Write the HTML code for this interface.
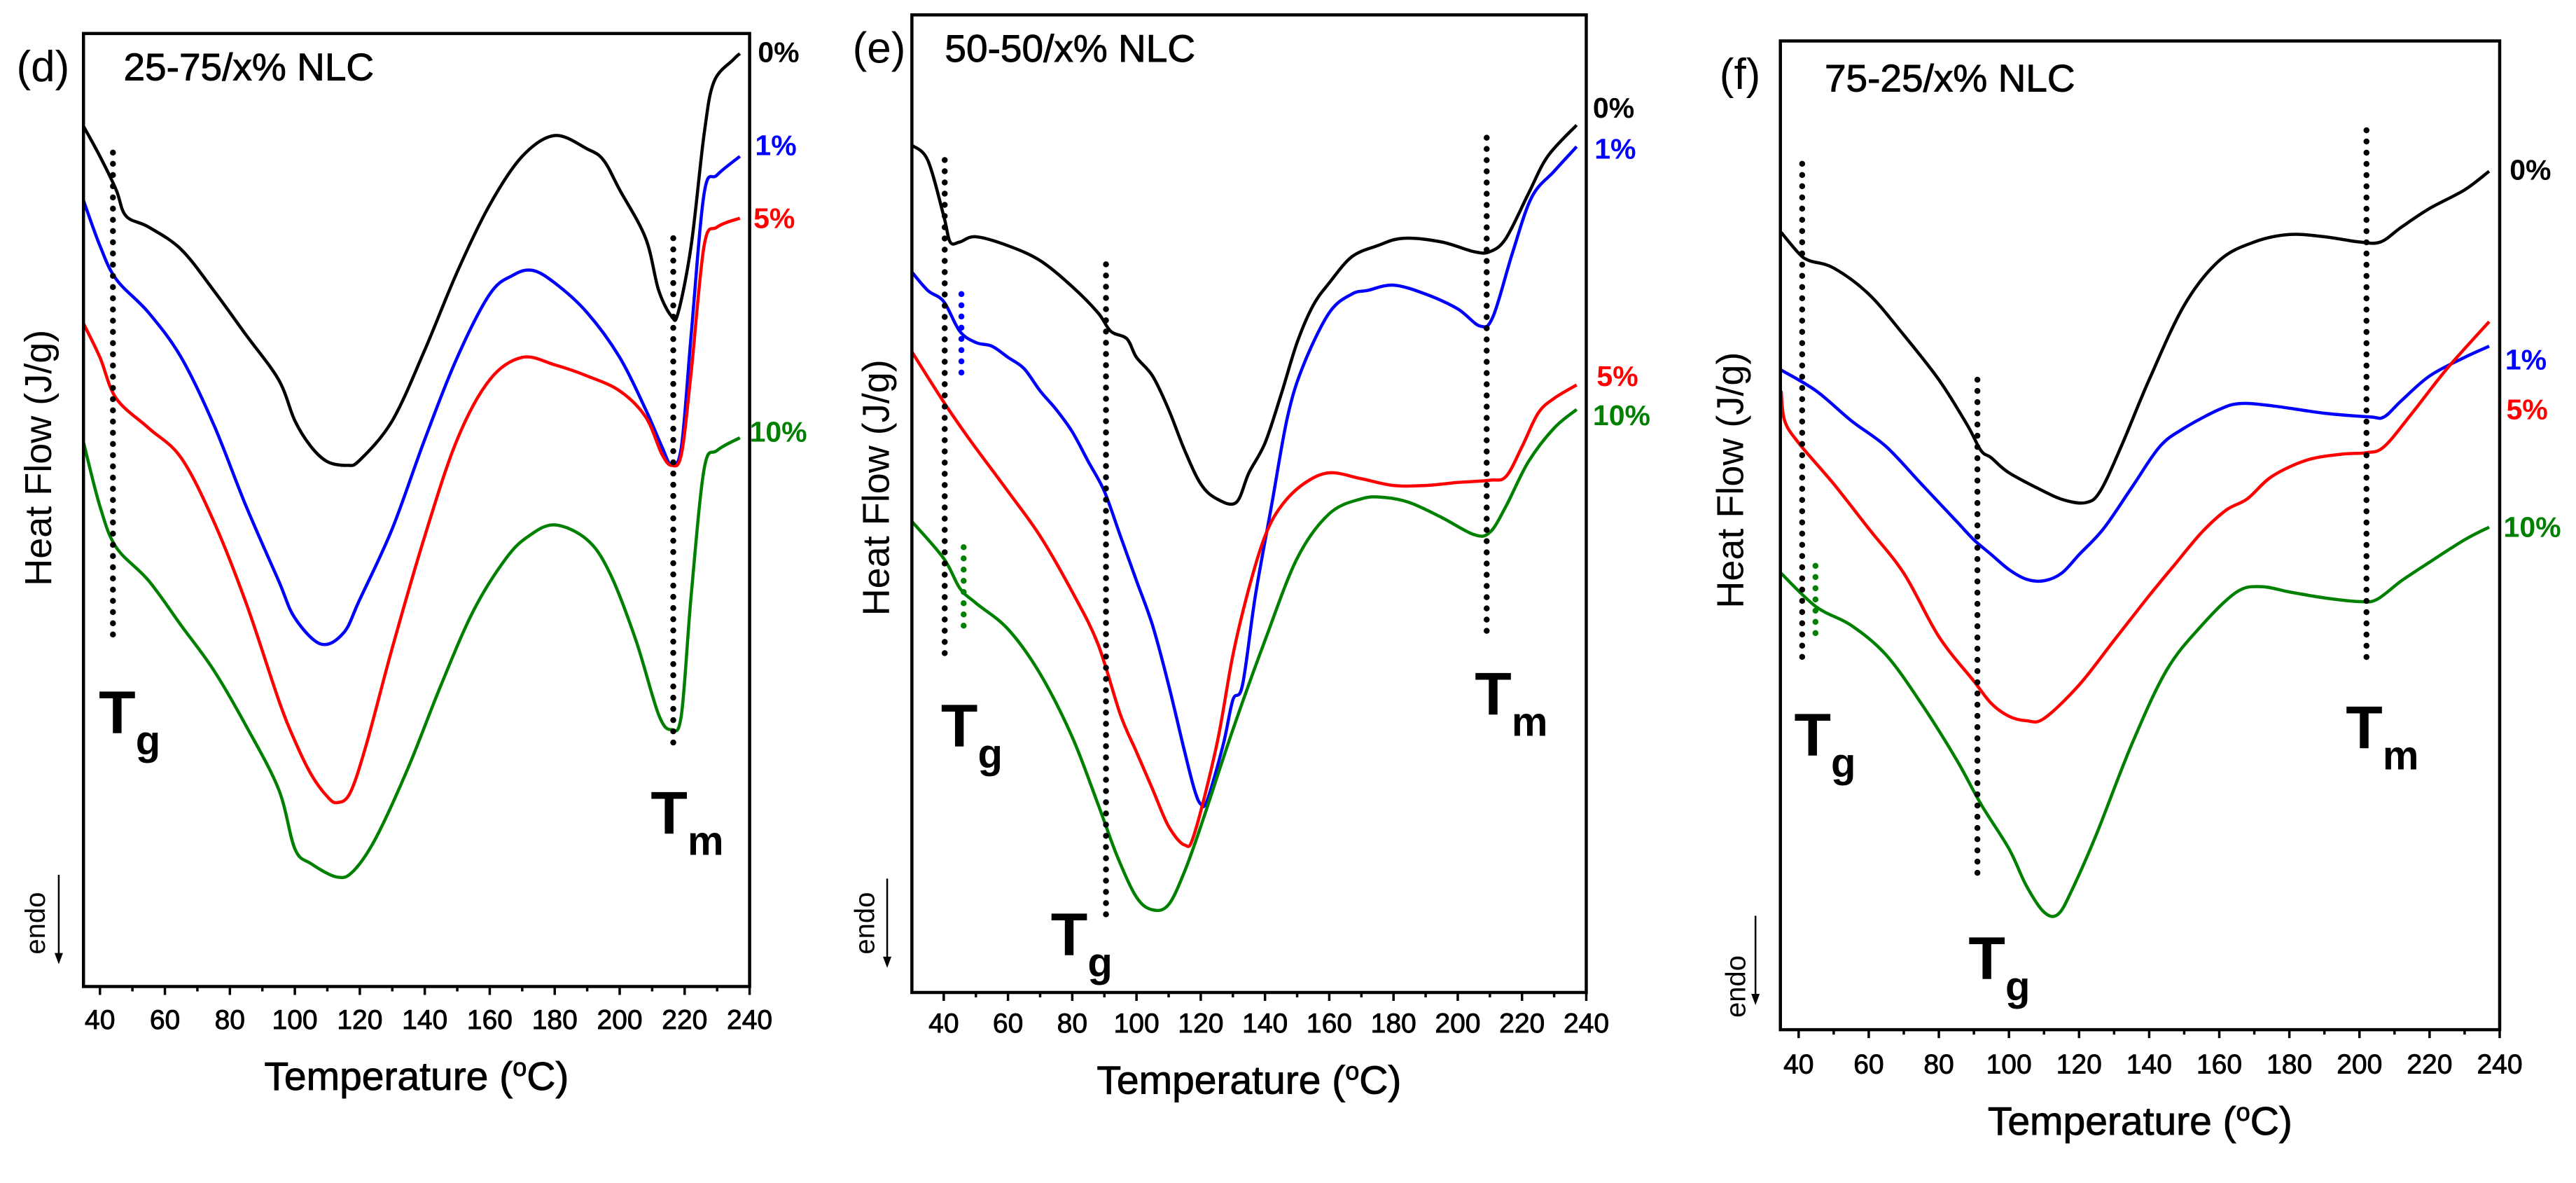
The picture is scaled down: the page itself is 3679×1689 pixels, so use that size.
<!DOCTYPE html>
<html><head><meta charset="utf-8">
<style>
html,body{margin:0;padding:0;background:#fff;}
svg{display:block;font-family:"Liberation Sans",Arial,sans-serif;}
.thick{stroke:#000;stroke-width:0.9px;}
</style></head>
<body>
<svg id="fig" width="3679" height="1689" viewBox="0 0 3679 1689" xmlns="http://www.w3.org/2000/svg"></svg>
<script>
// ---- data (temperature °C, heat flow arbitrary units, inverted: larger = lower on plot) ----
const ticksT = [40,60,80,100,120,140,160,180,200,220,240];
// Panel d
const dT0 = [35,40,45,48,55,65,75,85,95,100,105,110,116,120,130,140,150,160,170,180,190,195,200,208,212,216,218,222,226,229,235,237];
const dV0 = [170,210,255,290,305,335,390,450,510,565,600,620,625,618,565,470,365,275,210,182,200,215,255,320,390,425,420,330,180,110,80,72];
const dT1 = [35,40,45,55,65,75,85,95,100,108,115,120,130,140,150,160,167,173,180,190,200,208,213,216,219,222,226,230,237];
const dV1 = [270,330,375,420,480,570,680,780,830,865,850,805,710,590,480,395,370,363,380,420,480,550,600,625,600,450,260,235,210];
const dT5 = [35,40,45,55,65,75,85,95,100,105,110,113,117,122,130,140,150,160,170,180,190,200,208,213,216,219,222,226,230,237];
const dV5 = [435,480,535,575,615,700,810,940,995,1040,1070,1078,1065,1000,870,720,590,510,480,490,505,525,560,610,625,610,500,330,305,293];
const dT10 = [35,40,45,55,65,75,85,95,100,105,113,118,125,135,145,155,165,172,180,190,197,205,212,216,219,222,226,230,237];
const dV10 = [595,680,735,780,840,900,975,1060,1140,1160,1178,1170,1125,1030,920,820,750,720,705,725,770,860,960,980,960,800,630,605,588];
// Panel e
const eT0 = [30,35,40,42,45,50,60,70,80,88,92,97,100,105,110,115,120,125,131,135,140,145,150,155,160,167,175,183,195,205,210,215,222,228,237];
const eV0 = [195,215,290,325,325,318,330,350,385,420,445,455,480,505,550,605,650,670,675,635,595,530,460,410,380,345,330,320,325,338,338,320,260,210,168];
const eT1 = [30,35,40,45,50,55,60,65,70,75,80,85,90,95,100,105,110,115,118,120,122,127,130,133,137,142,147,152,160,167,172,180,190,200,207,211,217,223,230,237];
const eV1 = [365,390,405,445,460,465,480,495,525,550,580,620,660,720,780,840,920,1010,1060,1080,1075,1000,940,920,800,680,560,490,420,395,390,383,395,415,438,425,340,265,230,197];
const eT5 = [30,40,48,60,70,80,88,95,100,105,110,115,118,125,130,135,140,145,152,160,170,180,190,200,210,215,220,225,230,237];
const eV5 = [472,540,590,660,720,795,865,960,1010,1060,1110,1135,1120,1000,880,790,720,680,650,635,643,652,652,648,645,640,600,555,535,517];
const eT10 = [30,40,45,50,60,70,80,88,94,100,105,110,115,120,130,140,150,160,170,177,185,195,205,210,215,222,230,237];
const eV10 = [700,750,790,810,845,905,990,1080,1150,1205,1222,1215,1170,1110,980,860,750,690,670,668,675,695,718,715,680,620,575,550];
// Panel f
const fT0 = [35,40,43,50,60,70,80,88,92,95,100,110,116,122,126,132,140,150,160,170,180,190,200,206,212,220,230,237];
const fV0 = [312,340,350,360,395,450,510,570,605,615,635,660,672,675,660,600,510,410,350,325,315,318,325,325,305,280,255,230];
const fT1 = [35,45,55,65,75,85,90,95,100,105,110,115,120,127,135,143,150,160,166,175,190,203,207,212,220,230,237];
const fV1 = [497,525,565,600,650,700,725,745,765,778,780,770,745,710,655,600,575,550,542,545,555,560,560,538,505,480,465];
const fT5 = [35,36,40,50,60,70,80,90,95,100,105,110,120,130,140,147,155,162,168,175,185,195,202,207,215,225,237];
const fV5 = [525,565,595,650,710,770,855,915,945,962,968,965,920,860,800,760,715,685,670,640,618,610,608,600,555,495,432];
const fT10 = [35,45,55,65,75,85,92,100,105,110,114,118,125,135,145,155,165,172,180,190,200,205,212,220,230,237];
const fV10 = [770,815,840,880,945,1020,1080,1140,1190,1225,1228,1195,1120,1000,900,840,795,788,795,803,808,805,780,755,725,708];

const colors = {"0%":"#000000","1%":"#0000ff","5%":"#ff0000","10%":"#008000"};
const NS = "http://www.w3.org/2000/svg";
const svg = document.getElementById('fig');
function mk(tag, attrs, parent){ const e=document.createElementNS(NS,tag); for(const k in attrs) e.setAttribute(k,attrs[k]); (parent||svg).appendChild(e); return e; }
const SY = 1.063;
function yOf(v){ return v * SY; }
function smoothPath(pts){
  let d = 'M'+pts[0][0].toFixed(1)+','+pts[0][1].toFixed(1);
  for(let i=0;i<pts.length-1;i++){
    const p0=pts[Math.max(0,i-1)], p1=pts[i], p2=pts[i+1], p3=pts[Math.min(pts.length-1,i+2)];
    const c1=[p1[0]+(p2[0]-p0[0])/6, p1[1]+(p2[1]-p0[1])/6];
    const c2=[p2[0]-(p3[0]-p1[0])/6, p2[1]-(p3[1]-p1[1])/6];
    d+=' C'+c1.map(v=>v.toFixed(1)).join(',')+' '+c2.map(v=>v.toFixed(1)).join(',')+' '+p2[0].toFixed(1)+','+p2[1].toFixed(1);
  }
  return d;
}

const panels = [
 {id:'d', off:0, sx:1.275, x40:182, per:5.915, left:152, right:1365, top:45, bottom:1325, letter:'(d)', title:'25-75/x% NLC',
  series:[['0%',dT0,dV0],['1%',dT1,dV1],['5%',dT5,dV5],['10%',dT10,dV10]],
  tickY:1370, titleY:1445, ylabX:70, ylabY:615,
  letterPos:[30,90], titlePos:[225,90],
  pct:[['0%',1380,70],['1%',1375,195],['5%',1372,293],['10%',1365,580]],
  dots:[[44,205,860,'#000'],[216.5,320,1010,'#000']],
  tlabels:[['g',180,985],['m',1185,1120]],
  endo:[65,1240,107,1175,1295]},
 {id:'e', off:1220, sx:1.275, x40:163, per:5.85, left:105, right:1333, top:20, bottom:1333, letter:'(e)', title:'50-50/x% NLC',
  series:[['0%',eT0,eV0],['1%',eT1,eV1],['5%',eT5,eV5],['10%',eT10,eV10]],
  tickY:1375, titleY:1450, ylabX:40, ylabY:655,
  letterPos:[-3,65], titlePos:[165,65],
  pct:[['0%',1345,145],['1%',1348,200],['5%',1352,505],['10%',1345,558]],
  dots:[[40.3,215,880,'#000'],[90.5,355,1235,'#000'],[209,185,850,'#000'],[45.5,395,510,'#0000ff'],[46.2,735,850,'#008000']],
  tlabels:[['g',158,1003],['g',358,1283],['m',1130,960]],
  endo:[20,1240,60,1180,1300]},
 {id:'f', off:2440, sx:1.2655, x40:163, per:6.335, left:130, right:1430, top:55, bottom:1383, letter:'(f)', title:'75-25/x% NLC',
  series:[['0%',fT0,fV0],['1%',fT1,fV1],['5%',fT5,fV5],['10%',fT10,fV10]],
  tickY:1430, titleY:1505, ylabX:40, ylabY:645,
  letterPos:[20,100], titlePos:[210,105],
  pct:[['0%',1448,228],['1%',1440,483],['5%',1442,550],['10%',1437,708]],
  dots:[[41,220,895,'#000'],[91,510,1185,'#000'],[202,175,890,'#000'],[44.8,760,865,'#008000']],
  tlabels:[['g',155,1015],['g',470,1315],['m',1152,1005]],
  endo:[50,1325,85,1230,1350]}
];

panels.forEach(p=>{
  const XR = zx => p.off + zx/p.sx;
  const X = t => XR(p.x40 + (t-40)*p.per);
  const g = mk('g',{});
  
  
  const L=XR(p.left), R=XR(p.right), T=p.top*SY, B=p.bottom*SY;
  p.series.forEach(([lab,ts,vs])=>{
    const pts = ts.map((t,i)=>[X(t), yOf(vs[i])]);
    const pl = mk('path',{d:smoothPath(pts),fill:'none',stroke:colors[lab],'stroke-width':4.5,'stroke-linejoin':'round'},g);
    
    
  });
  p.dots.forEach(([t,y1,y2,c],i)=>{
    const l = mk('line',{x1:X(t),x2:X(t),y1:y1*SY,y2:y2*SY,stroke:c,'stroke-width':8.5,'stroke-linecap':'round','stroke-dasharray':'0 16'},g);
    
    
  });
  const fr = mk('rect',{x:L,y:T,width:R-L,height:B-T,fill:'none',stroke:'#000','stroke-width':4.5},g);
  
  
  for(let t=40;t<=240;t+=10){
    const major = t%20===0;
    const tk = mk('line',{x1:X(t),x2:X(t),y1:B,y2:B+(major?12:7),stroke:'#000','stroke-width':3.5},g);
    
    
  }
  ticksT.forEach(t=>{
    const tx = mk('text',{x:X(t),y:p.tickY*SY,'font-size':39,'text-anchor':'middle','dominant-baseline':'central','class':'thick'},g);
    tx.textContent=t;
    
    
  });
  const at = mk('text',{x:(L+R)/2,y:p.titleY*SY+20,'font-size':57,'text-anchor':'middle','class':'thick'},g);
  at.innerHTML='Temperature (<tspan dy="-20" font-size="36">o</tspan><tspan dy="20">C)</tspan>';
  
  
  const yl = mk('text',{x:0,y:0,'font-size':54,'text-anchor':'middle','dominant-baseline':'central',transform:`translate(${XR(p.ylabX)},${p.ylabY*SY}) rotate(-90)`},g);
  yl.textContent='Heat Flow (J/g)';
  
  
  const le = mk('text',{x:XR(p.letterPos[0]),y:p.letterPos[1]*SY,'font-size':62,'dominant-baseline':'central'},g);
  le.textContent=p.letter;
  
  
  const ti = mk('text',{x:XR(p.titlePos[0]),y:p.titlePos[1]*SY,'font-size':55,'dominant-baseline':'central','class':'thick'},g);
  ti.textContent=p.title;
  
  
  p.pct.forEach(([lab,x,y])=>{
    const t = mk('text',{x:XR(x),y:y*SY,'font-size':41,'font-weight':'bold',fill:colors[lab],'dominant-baseline':'central'},g);
    t.textContent=lab;
    
    
  });
  p.tlabels.forEach(([sub,x,y])=>{
    const t = mk('text',{x:XR(x),y:y*SY,'font-size':86,'font-weight':'bold'},g);
    t.innerHTML='T<tspan dy="30" font-size="58">'+sub+'</tspan>';
    
    
  });
  const [ex,ey,ax,ay1,ay2]=p.endo;
  const en = mk('text',{x:0,y:0,'font-size':40,'text-anchor':'middle','dominant-baseline':'central',transform:`translate(${XR(ex)},${ey*SY}) rotate(-90)`},g);
  en.textContent='endo';
  
  
  const axr = XR(ax);
  const ar = mk('line',{x1:axr,x2:axr,y1:ay1*SY,y2:ay2*SY-8,stroke:'#000','stroke-width':2.5},g);
  
  
  const ah = mk('polygon',{points:`${axr-6},${ay2*SY-16} ${axr+6},${ay2*SY-16} ${axr},${ay2*SY}`,fill:'#000'},g);
  
  
});
</script>
</body></html>
